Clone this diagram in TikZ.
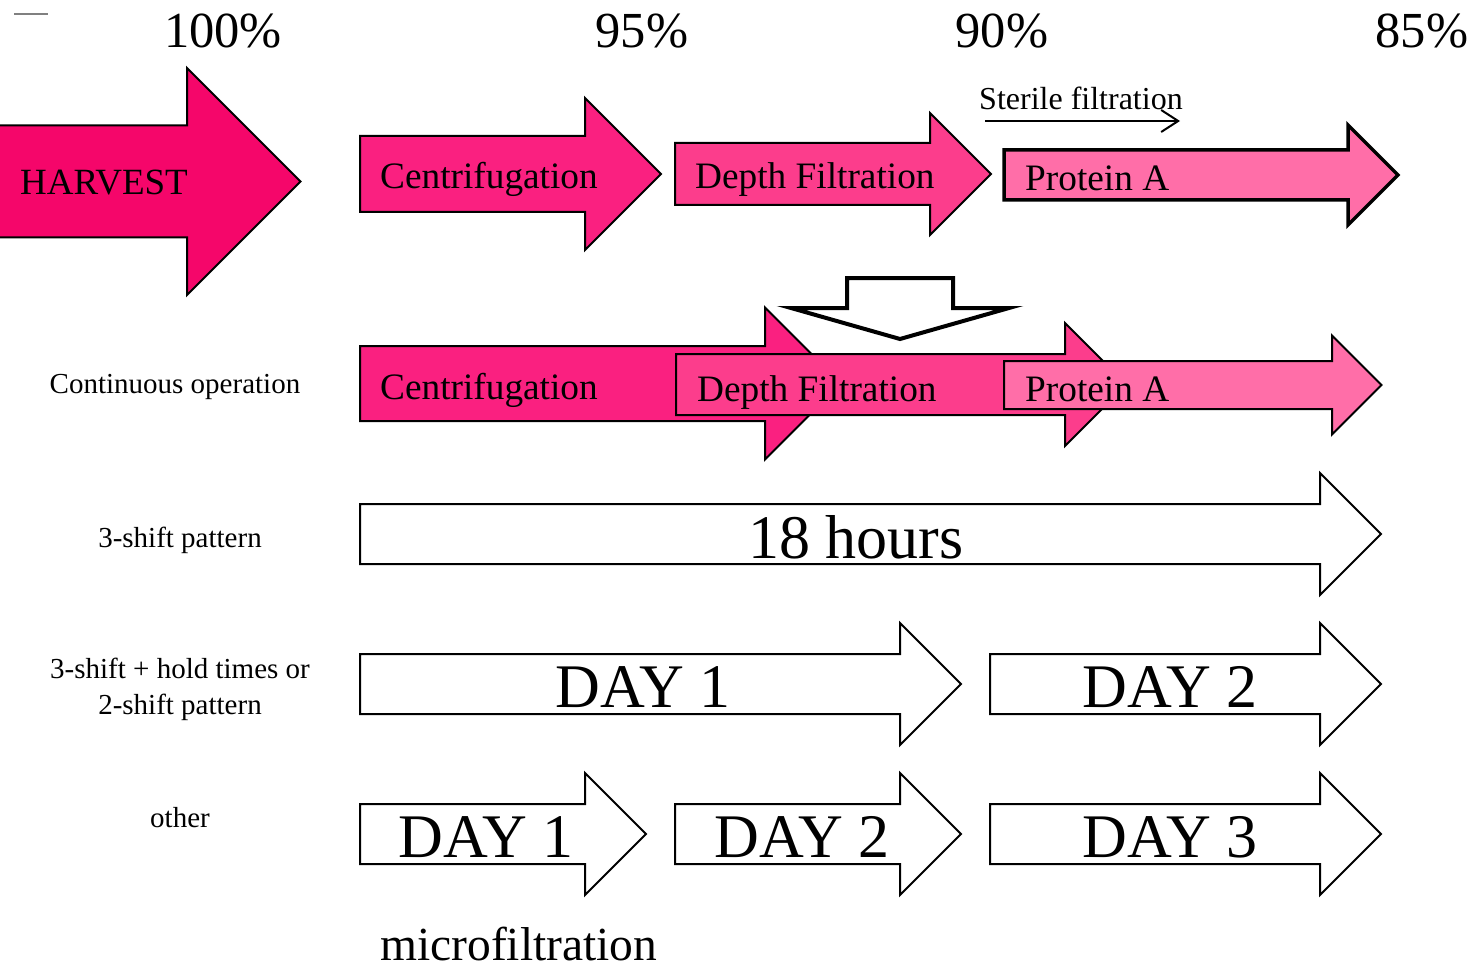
\documentclass[tikz,border=0pt]{standalone}
\usepackage{fontspec}
\setmainfont{Liberation Serif}
\usetikzlibrary{arrows.meta}
\definecolor{harv}{HTML}{F5066A}
\definecolor{cent}{HTML}{FA2080}
\definecolor{depth}{HTML}{FC3D8C}
\definecolor{prota}{HTML}{FF6EA8}
% #1 style, #2 left x, #3 head base x, #4 centre y, #5 half shaft, #6 half head
\newcommand\BlockArr[6]{\draw[#1] (#2,{#4-#5}) -- (#3,{#4-#5}) -- (#3,{#4-#6}) -- ({#3+#6},#4) -- (#3,{#4+#6}) -- (#3,{#4+#5}) -- (#2,{#4+#5}) -- cycle;}
\begin{document}
\begin{tikzpicture}[x=1pt,y=-1pt,
  blk/.style={draw=black, line width=2pt, line join=miter},
  thick blk/.style={draw=black, line width=3.5pt, line join=miter},
  txt/.style={inner sep=0pt, text=black},
  pct/.style={txt, anchor=base, font=\fontsize{50.5}{55}\selectfont},
  stage/.style={txt, anchor=base west, font=\fontsize{37.3}{40}\selectfont},
  lbl/.style={txt, anchor=base, font=\fontsize{29}{33}\selectfont},
  big/.style={txt, anchor=base, font=\fontsize{62}{66}\selectfont},
  day/.style={txt, anchor=base, font=\fontsize{62}{66}\selectfont}]
\useasboundingbox (0,0) rectangle (1474,968);
\fill[white] (0,0) rectangle (1474,968);

% small dash top-left
\coordinate (d1) at (14,14);
\coordinate (d2) at (48,14);
\draw[gray, line width=1.5pt] (d1) -- (d2);

% percentages
\node[pct] (p100) at (223,48) {100\%};
\node[pct] (p95) at (642,48) {95\%};
\node[pct] (p90) at (1002,48) {90\%};
\node[pct] (p85) at (1422,48) {85\%};

% top row
\BlockArr{blk, fill=harv}{-3}{187}{181.5}{56}{113.5}
\node[txt, anchor=base west, font=\fontsize{37}{40}\selectfont] (harvest) at (20,195) {HARVEST};
\BlockArr{blk, fill=cent}{360}{585}{174}{38}{76}
\node[stage] (c1) at (380,189) {Centrifugation};
\BlockArr{blk, fill=depth}{675}{930}{174}{31}{61}
\node[stage] (df1) at (695,189) {Depth Filtration};
\BlockArr{thick blk, fill=prota}{1004}{1348}{175}{25}{50}
\node[stage] (pa1) at (1025,191) {Protein A};
\node[txt, anchor=base west, font=\fontsize{32}{35}\selectfont] (sterile) at (979,110) {Sterile filtration};
\coordinate (sfs) at (985,121);
\coordinate (sfe) at (1180,121);
\draw[line width=2pt, -{Straight Barb[length=17pt,width=22pt,line width=2pt]}] (sfs) -- (sfe);

% down arrow
\draw[line width=4pt, fill=white, line join=miter] (847,278) -- (953,278) -- (953,308) -- (1009,308) -- (900,339) -- (791,308) -- (847,308) -- cycle;

% continuous row
\BlockArr{blk, fill=cent}{360}{765}{383.5}{37.5}{76}
\node[stage] (c2) at (380,399) {Centrifugation};
\BlockArr{blk, fill=depth}{676}{1065}{384.5}{30.5}{61.5}
\node[stage] (df2) at (697,401) {Depth Filtration};
\BlockArr{blk, fill=prota}{1004}{1332}{385}{24}{49.5}
\node[stage] (pa2) at (1025,401) {Protein A};
\node[lbl] (cont) at (175,393) {Continuous operation};

% 18 hours row
\BlockArr{blk, fill=white}{360}{1320}{534}{30}{61}
\node[big] (h18) at (856,558) {18 hours};
\node[lbl] (s3) at (180,547) {3-shift pattern};

% two-day row
\BlockArr{blk, fill=white}{360}{900}{684}{30}{61}
\node[day] (r4d1) at (643,707) {DAY 1};
\BlockArr{blk, fill=white}{990}{1320}{684}{30}{61}
\node[day] (r4d2) at (1170,707) {DAY 2};
\node[lbl] (s3h) at (180,678) {3-shift + hold times or};
\node[lbl] (s2) at (180,714) {2-shift pattern};

% three-day row
\BlockArr{blk, fill=white}{360}{585}{834}{30}{61}
\node[day] (r5d1) at (486,857) {DAY 1};
\BlockArr{blk, fill=white}{675}{900}{834}{30}{61}
\node[day] (r5d2) at (802,857) {DAY 2};
\BlockArr{blk, fill=white}{990}{1320}{834}{30}{61}
\node[day] (r5d3) at (1170,857) {DAY 3};
\node[lbl] (oth) at (180,827) {other};

\node[txt, anchor=base west, font=\fontsize{47.5}{50}\selectfont] (micro) at (380,960) {microfiltration};
\end{tikzpicture}
\end{document}
